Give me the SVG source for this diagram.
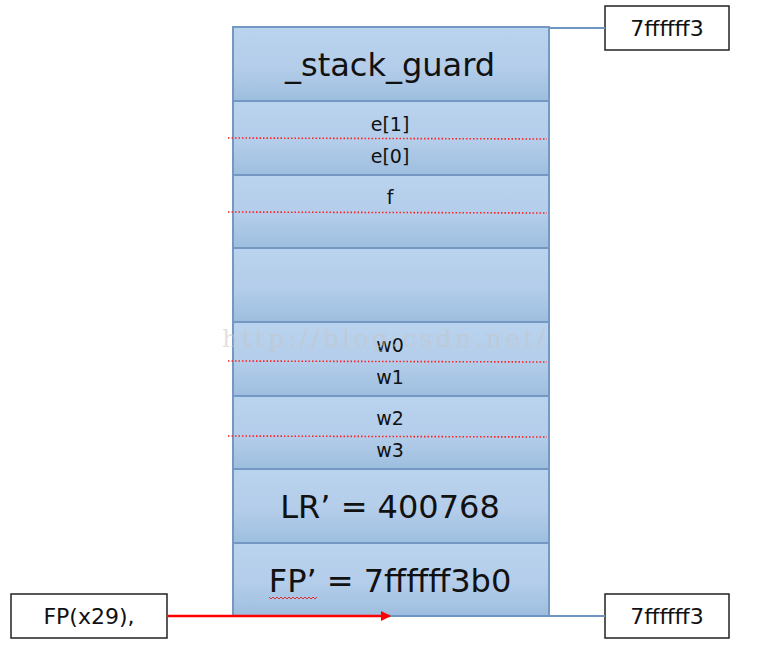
<svg xmlns="http://www.w3.org/2000/svg" width="767" height="648" viewBox="0 0 767 648">
<defs>
<linearGradient id="cell" x1="0" y1="0" x2="0" y2="1">
<stop offset="0" stop-color="#bad4ef"/>
<stop offset="0.55" stop-color="#b3cdea"/>
<stop offset="1" stop-color="#9ebedf"/>
</linearGradient>
<marker id="arr" markerWidth="10" markerHeight="10" refX="9" refY="5" orient="auto" markerUnits="userSpaceOnUse">
<path d="M0,0 L10,5 L0,10 z" fill="#ff0000"/>
</marker>
<style>
.cell{fill:url(#cell);stroke:#7399c3;stroke-width:2}
.dot{stroke:#ff2020;stroke-width:1.6;stroke-dasharray:1.5 2;fill:none}
.big{font-family:"DejaVu Sans",sans-serif;font-size:32px;fill:#111;text-anchor:middle}
.sm{font-family:"DejaVu Sans",sans-serif;font-size:19px;fill:#111;text-anchor:middle}
.box{fill:#fff;stroke:#222;stroke-width:1.5}
.bt{font-family:"DejaVu Sans",sans-serif;font-size:22px;fill:#111;text-anchor:middle}
.wm{font-family:"DejaVu Serif","Liberation Serif",serif;font-size:25px;fill:#c4c4c4;fill-opacity:0.5}
</style>
</defs>
<rect width="767" height="648" fill="#fff"/>
<g id="stack">
<g id="cell-guard"><rect class="cell" x="233" y="27" width="316" height="74"/><text class="big" x="390" y="76">_stack_guard</text></g>
<g id="cell-e"><rect class="cell" x="233" y="101" width="316" height="74"/><text class="sm" x="390" y="131">e[1]</text><text class="sm" x="390" y="163">e[0]</text></g>
<g id="cell-f"><rect class="cell" x="233" y="175" width="316" height="73"/><text class="sm" x="390" y="204">f</text></g>
<g id="cell-empty"><rect class="cell" x="233" y="248" width="316" height="74"/></g>
<g id="cell-w01"><rect class="cell" x="233" y="322" width="316" height="74"/><text class="sm" x="390" y="352">w0</text><text class="sm" x="390" y="384">w1</text></g>
<g id="cell-w23"><rect class="cell" x="233" y="396" width="316" height="73"/><text class="sm" x="390" y="425">w2</text><text class="sm" x="390" y="457">w3</text></g>
<g id="cell-lr"><rect class="cell" x="233" y="469" width="316" height="74"/><text class="big" x="390" y="518">LR’ = 400768</text></g>
<g id="cell-fp"><rect class="cell" x="233" y="543" width="316" height="73"/><text class="big" x="390" y="592">FP’ = 7ffffff3b0</text>
<polyline points="269,597 271,599 273,597 275,599 277,597 279,599 281,597 283,599 285,597 287,599 289,597 291,599 293,597 295,599 297,597 299,599 301,597 303,599 305,597 307,599 309,597 311,599 313,597 315,599 317,597" fill="none" stroke="#e03030" stroke-width="1"/>
</g>
</g>
<g id="dividers">
<line class="dot" x1="228" y1="138" x2="547" y2="139"/>
<line class="dot" x1="228" y1="212" x2="547" y2="213"/>
<line class="dot" x1="228" y1="361" x2="547" y2="362"/>
<line class="dot" x1="228" y1="436" x2="547" y2="437"/>
</g>
<text class="wm" x="222" y="347" textLength="323" lengthAdjust="spacing">http://blog.csdn.net/</text>
<g id="addr-top"><rect class="box" x="605" y="6" width="124" height="44"/><text class="bt" x="667" y="36">7ffffff3</text></g>
<g id="addr-bottom"><rect class="box" x="605" y="594" width="124" height="44"/><text class="bt" x="667" y="624">7ffffff3</text></g>
<g id="fp-reg"><rect class="box" x="11" y="594" width="156" height="44"/><text class="bt" x="89" y="624">FP(x29),</text></g>
<g id="connectors">
<line x1="549" y1="28" x2="605" y2="28" stroke="#6f96c2" stroke-width="2"/>
<line x1="390" y1="616" x2="605" y2="616" stroke="#6f96c2" stroke-width="2"/>
<line x1="168" y1="616" x2="390" y2="616" stroke="#ff0000" stroke-width="2.5" marker-end="url(#arr)"/>
</g>
</svg>
